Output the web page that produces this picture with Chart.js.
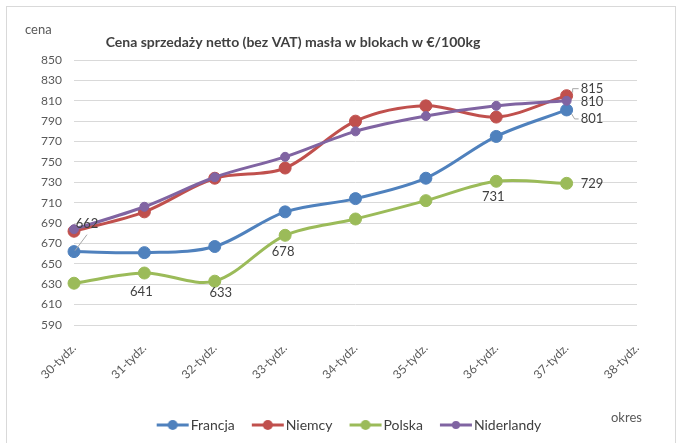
<!DOCTYPE html>
<html>
<head>
<meta charset="utf-8">
<script src="https://cdn.jsdelivr.net/npm/chart.js@4.4.0/dist/chart.umd.min.js"></script>
<style>
  html, body { margin: 0; padding: 0; background: #fff; }
  #wrap { width: 681px; height: 443px; }
</style>
</head>
<body>
<div id="wrap"><canvas id="myChart" width="681" height="443"></canvas></div>
<script>
var weeks = ["30-tydz.", "31-tydz.", "32-tydz.", "33-tydz.", "34-tydz.", "35-tydz.", "36-tydz.", "37-tydz.", "38-tydz."];
var francja = [662, 661, 667, 701, 714, 734, 775, 801];
var niemcy = [682, 701, 734, 744, 790, 805, 794, 815];
var polska = [631, 641, 633, 678, 694, 712, 731, 729];
var niderlandy = [684, 706, 735, 755, 780, 795, 805, 810];
var seriesNames = ["Francja", "Niemcy", "Polska", "Niderlandy"];
var seriesColors = ["#4F81BD", "#C0504D", "#9BBB59", "#8064A2"];
var yMin = 590, yMax = 850, yStep = 20;

// which points get a value label: [series, index, dx, dy, align]
var pointLabels = [
  [0, 0, 13, -28, "center"],
  [2, 1, -3, 19, "center"],
  [2, 2, 6, 12, "center"],
  [2, 3, -2, 17, "center"],
  [2, 6, -3, 16, "center"],
  [2, 7, 14, 0, "left"],
  [1, 7, 14, -7, "left"],
  [3, 7, 14, 1, "left"],
  [0, 7, 14, 9, "left"]
];

var font = "Lato, 'Liberation Sans', sans-serif";

// legend marker: line with dot, drawn off-centre so the gaps match the original
function legendIcon(color, small) {
  var c = document.createElement("canvas");
  c.width = 78; c.height = 12;
  var g = c.getContext("2d");
  g.strokeStyle = color; g.lineWidth = 3;
  g.beginPath(); g.moveTo(29, 6); g.lineTo(61, 6); g.stroke();
  g.fillStyle = color;
  g.beginPath(); g.arc(45, 6, small ? 4 : 5, 0, Math.PI * 2); g.fill();
  return c;
}

var allData = [francja, niemcy, polska, niderlandy];
var datasets = allData.map(function (vals, i) {
  return {
    label: seriesNames[i],
    data: vals,
    borderColor: seriesColors[i],
    backgroundColor: seriesColors[i],
    borderWidth: 3,
    pointRadius: i === 3 ? 4.5 : 6,
    pointBorderWidth: 1,
    pointBorderColor: seriesColors[i],
    pointBackgroundColor: seriesColors[i],
    tension: 0.33,
    fill: false,
    order: 3 - i
  };
});

var extras = {
  id: "extras",
  beforeDraw: function (chart) {
    var ctx = chart.ctx;
    ctx.save();
    ctx.strokeStyle = "#d9d9d9";
    ctx.lineWidth = 1;
    ctx.strokeRect(6.5, 6.5, 669, 440);
    ctx.restore();
  },
  afterDraw: function (chart) {
    var ctx = chart.ctx;
    ctx.save();
    ctx.fillStyle = "#595959";
    ctx.font = "13px " + font;
    ctx.textAlign = "left";
    ctx.textBaseline = "middle";
    ctx.fillText("cena", 25, 30);
    ctx.fillText("okres", 611, 418);
    ctx.fillStyle = "#404040";
    ctx.font = "bold 14px " + font;
    ctx.textAlign = "center";
    ctx.fillText("Cena sprzedaży netto (bez VAT) masła w blokach w €/100kg", 293, 42);

    ctx.font = "13px " + font;
    pointLabels.forEach(function (p) {
      var el = chart.getDatasetMeta(p[0]).data[p[1]];
      var v = allData[p[0]][p[1]];
      ctx.fillStyle = "#404040";
      ctx.textAlign = p[4];
      ctx.fillText(String(v), el.x + p[2], el.y + p[3]);
    });
    // leader lines
    ctx.strokeStyle = "#a6a6a6";
    ctx.lineWidth = 1;
    var f0 = chart.getDatasetMeta(0).data[0];
    ctx.beginPath(); ctx.moveTo(f0.x + 1, f0.y - 1); ctx.lineTo(f0.x + 13, f0.y - 17); ctx.stroke();
    var n7 = chart.getDatasetMeta(1).data[7];
    ctx.beginPath(); ctx.moveTo(n7.x + 6, n7.y - 3); ctx.lineTo(n7.x + 6, n7.y - 7); ctx.lineTo(n7.x + 12, n7.y - 7); ctx.stroke();
    var f7 = chart.getDatasetMeta(0).data[7];
    ctx.beginPath(); ctx.moveTo(f7.x + 5, f7.y + 4); ctx.lineTo(f7.x + 8, f7.y + 9); ctx.lineTo(f7.x + 12, f7.y + 9); ctx.stroke();
    ctx.restore();
  }
};

new Chart("myChart", {
  type: "line",
  data: {
    labels: weeks,
    datasets: datasets
  },
  plugins: [extras],
  options: {
    responsive: false,
    animation: false,
    layout: { padding: { left: 10, top: 60, right: 0, bottom: 1 } },
    plugins: {
      tooltip: { enabled: false },
      title: { display: false },
      legend: {
        position: "bottom",
        labels: {
          usePointStyle: true,
          pointStyleWidth: 34,
          boxHeight: 12,
          padding: 10,
          color: "#404040",
          font: { family: font, size: 14 },
          generateLabels: function (chart) {
            var items = Chart.defaults.plugins.legend.labels.generateLabels(chart);
            items.sort(function (a, b) { return a.datasetIndex - b.datasetIndex; });
            items.forEach(function (it) {
              it.pointStyle = legendIcon(seriesColors[it.datasetIndex], it.datasetIndex === 3);
            });
            return items;
          }
        }
      }
    },
    scales: {
      x: {
        offset: false,
        grid: { display: false, drawTicks: false },
        border: { display: false },
        afterFit: function (scale) { scale.height = 83; },
        ticks: {
          autoSkip: false,
          minRotation: 45,
          maxRotation: 45,
          padding: 16,
          color: "#595959",
          font: { family: font, size: 12 }
        }
      },
      y: {
        min: yMin,
        max: yMax,
        afterFit: function (scale) { scale.width = 64; },
        grid: { color: "#d9d9d9", lineWidth: 1, drawTicks: false },
        border: { display: false },
        ticks: {
          stepSize: yStep,
          padding: 12,
          color: "#595959",
          font: { family: font, size: 12 }
        }
      },
      yRight: {
        position: "right",
        min: yMin,
        max: yMax,
        afterFit: function (scale) { scale.width = 44; },
        grid: { display: false, drawTicks: false },
        border: { display: false },
        ticks: { display: false }
      }
    }
  }
});
</script>
</body>
</html>
